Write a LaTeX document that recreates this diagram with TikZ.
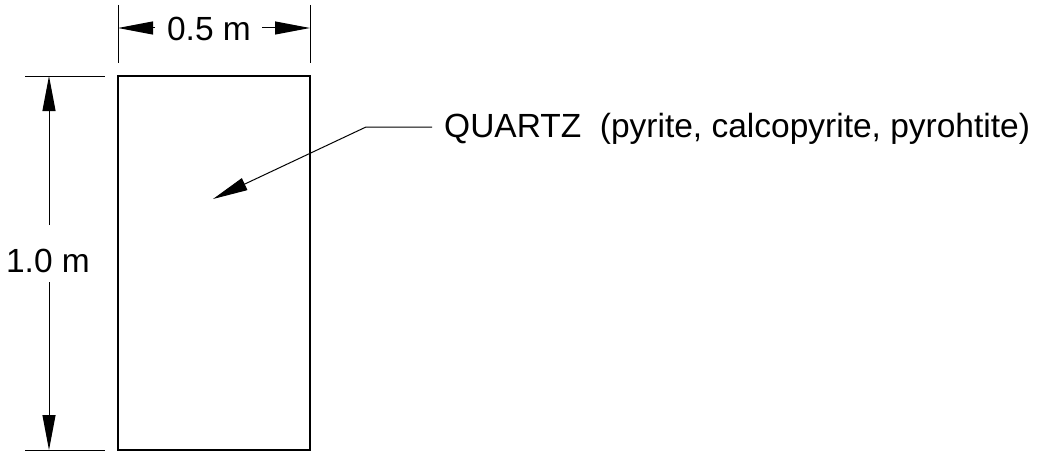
\documentclass[tikz,border=0pt]{standalone}
\usepackage{fontspec}
\setmainfont{Liberation Sans}
\usetikzlibrary{arrows.meta}
\begin{document}
\begin{tikzpicture}[x=1pt,y=-1pt,
  dimtip/.style={-{Triangle[length=35pt,width=13pt]}},
  thinline/.style={line width=1pt},
  lbl/.style={font=\fontsize{33.5}{38}\selectfont, inner sep=0pt}]
\useasboundingbox (0,0) rectangle (1043,452);
% body
\node[draw, line width=2.4pt, minimum width=192pt, minimum height=374pt, inner sep=0pt] (body) at (214,263) {};
% top dimension
\coordinate (tl1) at (118,5); \coordinate (tl2) at (118,63);
\coordinate (tr1) at (310,5); \coordinate (tr2) at (310,63);
\draw[thinline] (tl1) -- (tl2);
\draw[thinline] (tr1) -- (tr2);
\node[lbl] (w) at (209,29) {0.5 m};
\coordinate (wl) at (155,28); \coordinate (wr) at (262,28);
\coordinate (wlt) at (118,28); \coordinate (wrt) at (310,28);
\draw[thinline, dimtip] (wl) -- (wlt);
\draw[thinline, dimtip] (wr) -- (wrt);
% left dimension
\coordinate (lt1) at (25,76); \coordinate (lt2) at (105,76);
\coordinate (lb1) at (25,450); \coordinate (lb2) at (105,450);
\draw[thinline] (lt1) -- (lt2);
\draw[thinline] (lb1) -- (lb2);
\node[lbl] (h) at (48,261) {1.0 m};
\coordinate (hu) at (49,225); \coordinate (hd) at (49,282);
\coordinate (hut) at (49,76); \coordinate (hdt) at (49,450);
\draw[thinline, dimtip] (hu) -- (hut);
\draw[thinline, dimtip] (hd) -- (hdt);
% leader
\node[lbl, anchor=base west] (q) at (444,137) {QUARTZ\ \ (pyrite, calcopyrite, pyrohtite)};
\coordinate (k1) at (432,127); \coordinate (k2) at (366,127); \coordinate (tip) at (213,199);
\draw[thinline, dimtip] (k1) -- (k2) -- (tip);
\end{tikzpicture}
\end{document}
